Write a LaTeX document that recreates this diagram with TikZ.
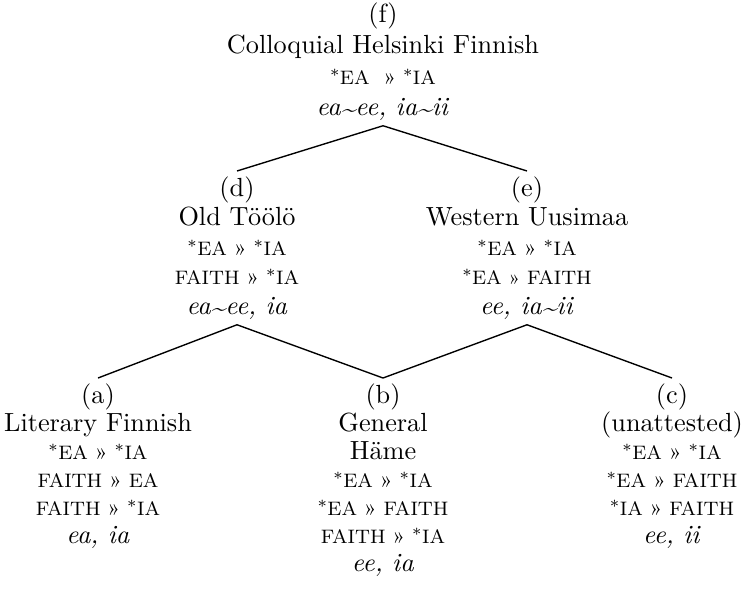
\documentclass[tikz,border=0pt]{standalone}
\usepackage{xcolor}
\usepackage{tikz}
\definecolor{treeink}{HTML}{000000}
\newcommand{\mrk}{\raisebox{1.2pt}{\fontsize{6.6}{6}\selectfont*}\kern0.2pt}
\newcommand{\vary}{\raisebox{-0.2ex}{\textasciitilde}}
\newcommand{\outr}{{\fontsize{9}{6}\selectfont»}}
\newcommand{\rank}[1]{{\fontsize{7.8}{\baselineskip}\selectfont#1}}
\tikzset{
  dialect/.style={align=center, anchor=north, inner xsep=0pt, inner ysep=2pt,
    text=treeink, font=\fontsize{10.5}{#1}\selectfont},
  branch/.style={treeink, line width=0.55pt}
}

\begin{document}
\begin{tikzpicture}[x=0.4pt,y=-0.4pt]
  \useasboundingbox (0,0) rectangle (744,600);
  \node[dialect=12.4] (f) at (383,-3) {(f)\\Colloquial Helsinki Finnish\\
    \rank{\mrk EA\ \ \outr{} \mrk IA}\\\textit{ea\vary ee, ia\vary ii}};
  \node[dialect=11.8] (d) at (237,171) {(d)\\Old Töölö\\\rank{\mrk EA \outr{} \mrk IA}\\
    \rank{FAITH \outr{} \mrk IA}\\\textit{ea\vary ee, ia}};
  \node[dialect=11.8] (e) at (527,171) {(e)\\Western Uusimaa\\\rank{\mrk EA \outr{} \mrk IA}\\
    \rank{\mrk EA » FAITH}\\\textit{ee, ia\vary ii}};
  \node[dialect=11.2] (a) at (98,378) {(a)\\Literary Finnish\\\rank{\mrk EA \outr{} \mrk IA}\\
    \rank{FAITH \outr{} EA}\\\rank{FAITH \outr{} \mrk IA}\\\textit{ea, ia}};
  \node[dialect=11.2] (b) at (383,378) {(b)\\General\\Häme\\\rank{\mrk EA \outr{} \mrk IA}\\
    \rank{\mrk EA \outr{} FAITH}\\\rank{FAITH \outr{} \mrk IA}\\\textit{ee, ia}};
  \node[dialect=11.2] (c) at (672,378) {(c)\\(unattested)\\\rank{\mrk EA \outr{} \mrk IA}\\
    \rank{\mrk EA \outr{} FAITH}\\\rank{\mrk IA \outr{} FAITH}\\\textit{ee, ii}};
  \draw[branch] (d.north) -- (f.south) -- (e.north);
  \draw[branch] (a.north) -- (d.south) -- (b.north);
  \draw[branch] (b.north) -- (e.south) -- (c.north);
\end{tikzpicture}
\end{document}
